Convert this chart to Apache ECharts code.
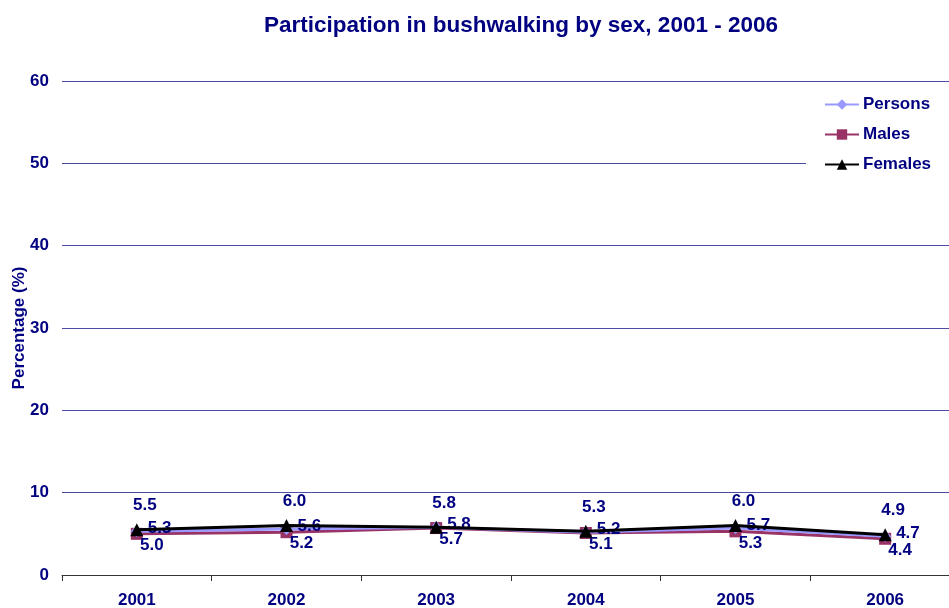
<!DOCTYPE html>
<html>
<head>
<meta charset="utf-8">
<script src="https://cdn.jsdelivr.net/npm/echarts@6/dist/echarts.min.js"></script>
<style>
  html, body { margin: 0; padding: 0; background: #fff; }
  #chart { width: 949px; height: 608px; }
</style>
</head>
<body>
<div id="chart"></div>
<script>
// Bushwalking participation rates (%) by sex
const years = ['2001', '2002', '2003', '2004', '2005', '2006'];
const persons = [5.3, 5.6, 5.8, 5.2, 5.7, 4.7];
const males = [5.0, 5.2, 5.7, 5.1, 5.3, 4.4];
const females = [5.5, 6.0, 5.8, 5.3, 6.0, 4.9];
const yTicks = [0, 10, 20, 30, 40, 50, 60];

const navy = '#000080';
const font = '"Liberation Sans", Arial, sans-serif';

const labelBase = {
  show: true,
  color: navy,
  fontFamily: font,
  fontWeight: 'bold',
  fontSize: 17,
  formatter: p => p.value.toFixed(1)
};

const chart = echarts.init(document.getElementById('chart'), null, { renderer: 'canvas' });
chart.setOption({
  animation: false,
  backgroundColor: '#fff',
  title: {
    text: 'Participation in bushwalking by sex, 2001 - 2006',
    left: 516,
    textAlign: 'center',
    top: 9,
    textStyle: { color: navy, fontFamily: font, fontWeight: 'bold', fontSize: 22.5 }
  },
  legend: {
    orient: 'vertical',
    left: 806,
    top: 86,
    itemWidth: 34,
    itemHeight: 13,
    itemGap: 13,
    padding: [10, 30, 10, 18],
    backgroundColor: '#fff',
    textStyle: { color: navy, fontFamily: font, fontWeight: 'bold', fontSize: 17, padding: [0, 0, 0, -1] },
    data: ['Persons', 'Males', 'Females']
  },
  grid: { left: 62, right: -11, top: 81, bottom: 33, containLabel: false, outerBoundsMode: 'none' },
  xAxis: {
    type: 'category',
    data: years,
    boundaryGap: true,
    axisLine: { lineStyle: { color: '#333', width: 1 } },
    axisTick: { show: true, length: 6, lineStyle: { color: '#333' } },
    axisLabel: { color: navy, fontFamily: font, fontWeight: 'bold', fontSize: 17, margin: 17 }
  },
  yAxis: {
    type: 'value',
    min: yTicks[0],
    max: yTicks[yTicks.length - 1],
    interval: 10,
    name: 'Percentage (%)',
    nameLocation: 'middle',
    nameRotate: 90,
    nameGap: 34,
    nameMoveOverlap: false,
    nameTextStyle: { color: navy, fontFamily: font, fontWeight: 'bold', fontSize: 17 },
    axisLine: { show: false },
    axisTick: { show: false },
    axisLabel: { color: navy, fontFamily: font, fontWeight: 'bold', fontSize: 17, margin: 13 },
    splitLine: { lineStyle: { color: '#4c4ca6', width: 1 } }
  },
  series: [
    {
      name: 'Persons',
      type: 'line',
      data: persons,
      symbol: 'diamond',
      symbolSize: 12,
      lineStyle: { width: 3, color: '#9999FF' },
      itemStyle: { color: '#9999FF' },
      label: Object.assign({}, labelBase, { position: 'right', distance: 5, offset: [0, -3] }),
      z: 3
    },
    {
      name: 'Males',
      type: 'line',
      data: males,
      symbol: 'rect',
      symbolSize: 12,
      lineStyle: { width: 3, color: '#993366' },
      itemStyle: { color: '#993366' },
      label: Object.assign({}, labelBase, { position: 'bottom', distance: 0, offset: [15, -3] }),
      z: 2
    },
    {
      name: 'Females',
      type: 'line',
      data: females,
      symbol: 'triangle',
      symbolSize: 13,
      lineStyle: { width: 3, color: '#000' },
      itemStyle: { color: '#000' },
      label: Object.assign({}, labelBase, { position: 'top', distance: 9, offset: [8, 0] }),
      z: 4
    }
  ]
});
</script>
</body>
</html>
